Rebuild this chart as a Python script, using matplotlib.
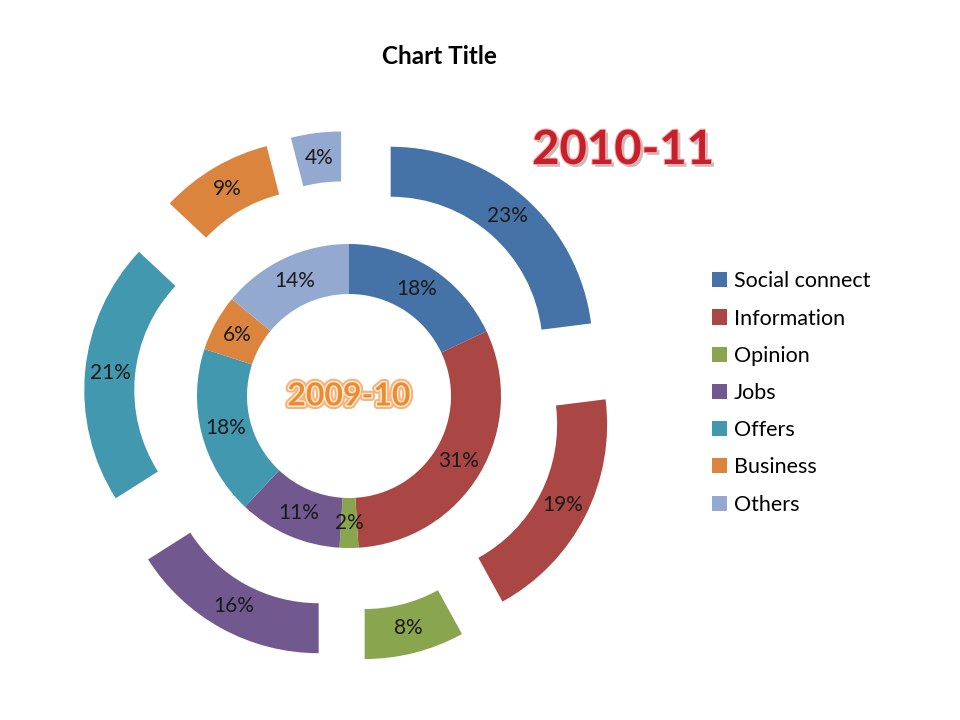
import matplotlib.pyplot as plt
import matplotlib.patheffects as pe

categories = ["Social connect", "Information", "Opinion", "Jobs", "Offers", "Business", "Others"]
share_2009 = [18, 31, 2, 11, 18, 6, 14]   # inner ring
share_2010 = [23, 19, 8, 16, 21, 9, 4]    # outer ring, exploded
colors = ["#4572A7", "#AA4643", "#89A54E", "#71588F", "#4198AF", "#DB843D", "#93A9CF"]

plt.rcParams['font.family'] = ['Lato', 'DejaVu Sans']

fig = plt.figure(figsize=(9.6, 7.2), dpi=100)
ax = fig.add_axes([0, 0, 1, 1])

# work in pixel units, y going up
cx, cy = 349, 324
ring = 50

outer, _, outer_txt = ax.pie(share_2010, radius=202, center=(cx, cy), colors=colors,
                             startangle=90, counterclock=False, explode=[63] * 7,
                             wedgeprops=dict(width=ring, linewidth=0),
                             autopct='%.0f%%', pctdistance=177 / 202)
inner, _, inner_txt = ax.pie(share_2009, radius=152, center=(cx, cy), colors=colors,
                             startangle=90, counterclock=False,
                             wedgeprops=dict(width=ring, linewidth=0),
                             autopct='%.0f%%', pctdistance=127 / 152)

for t in outer_txt + inner_txt:
    t.set_fontsize(15)
    t.set_color("#1a1a1a")

ax.set_xlim(0, 960)
ax.set_ylim(0, 720)
ax.set_aspect('equal')
ax.axis('off')

fig.text(439 / 960, 1 - 56 / 720, "Chart Title", ha='center', va='center',
         fontsize=17.5, fontweight='bold')

fig.text(623 / 960, 1 - 150 / 720, "2010-11", ha='center', va='center',
         fontsize=34, fontweight='bold', color="#C8202A",
         path_effects=[pe.withSimplePatchShadow(offset=(2, -2), shadow_rgbFace='gray', alpha=0.5),
                       pe.Stroke(linewidth=1.5, foreground='#F4B0B0'), pe.Normal()])

fig.text(cx / 960, 1 - 396 / 720, "2009-10", ha='center', va='center',
         fontsize=23, fontweight='bold', color="#F08A30",
         path_effects=[pe.Stroke(linewidth=5, foreground='#F7B37A'),
                       pe.Stroke(linewidth=2, foreground='#FFF1E0'), pe.Normal()])

fig.legend(inner, categories, loc='center left', bbox_to_anchor=(712 / 960, 1 - 393 / 720),
           frameon=False, fontsize=15.5, handlelength=0.7, handleheight=0.7,
           handletextpad=0.3, labelspacing=0.8, borderpad=0, borderaxespad=0)

fig.savefig("out.png", dpi=100)
